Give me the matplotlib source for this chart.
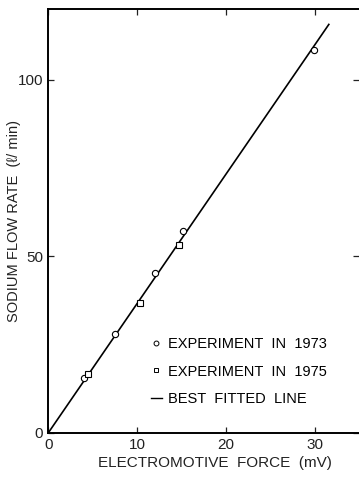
import numpy as np
import matplotlib
matplotlib.use('Agg')
import matplotlib.pyplot as plt
from matplotlib.lines import Line2D

plt.rcParams['font.family'] = ['Liberation Sans Narrow', 'Liberation Sans', 'DejaVu Sans']

# Measured points: electromotive force (mV) vs sodium flow rate (l/min)
emf_1973 = [4.0, 7.5, 12.0, 15.2, 29.9]
flow_1973 = [15.4, 27.8, 45.2, 57.0, 108.5]
emf_1975 = [4.4, 10.3, 14.7]
flow_1975 = [16.5, 36.8, 53.2]

# Best fitted line through the origin
fit_slope = 3.66
fit_emf = [0.0, 31.6]

x_ticks = [0, 10, 20, 30]
y_ticks = [0, 50, 100]

fig = plt.figure(figsize=(3.59, 4.78), dpi=100)
ax = fig.add_axes([0.135, 0.095, 0.865, 0.886])

ax.plot(fit_emf, fit_slope * np.array(fit_emf), color='black', lw=1.2)
ax.plot(emf_1973, flow_1973, 'o', ms=4.5, mfc='white', mec='black', mew=0.8)
ax.plot(emf_1975, flow_1975, 's', ms=4.0, mfc='white', mec='black', mew=0.8)

ax.set_xlim(0, 35)
ax.set_ylim(0, 120)
ax.set_xticks(x_ticks)
ax.set_yticks(y_ticks)
ax.tick_params(direction='in', length=4, width=0.9, labelsize=11, colors='#222222',
               top=True, right=True, pad=4)
for side in ['left', 'bottom', 'top']:
    ax.spines[side].set_linewidth(1.4)
ax.spines['right'].set_visible(False)

ax.set_xlabel('ELECTROMOTIVE  FORCE  (mV)', fontsize=11, color='#222222')
ax.xaxis.set_label_coords(0.535, -0.055)
ax.set_ylabel('SODIUM FLOW RATE  (ℓ/ min)', fontsize=10.5, color='#222222')
ax.yaxis.set_label_coords(-0.09, 0.5)

handles = [
    Line2D([], [], ls='none', marker='o', ms=3.5, mfc='white', mec='black', mew=0.7),
    Line2D([], [], ls='none', marker='s', ms=3.0, mfc='white', mec='black', mew=0.7),
    Line2D([], [], color='black', lw=1.0),
]
labels = ['EXPERIMENT  IN  1973', 'EXPERIMENT  IN  1975', 'BEST  FITTED  LINE']
ax.legend(handles, labels, frameon=False, fontsize=10.5, handlelength=0.8,
          handletextpad=0.4, labelspacing=0.95, loc='lower left',
          bbox_to_anchor=(0.31, 0.048), borderaxespad=0)

fig.savefig('out.png', dpi=100)
